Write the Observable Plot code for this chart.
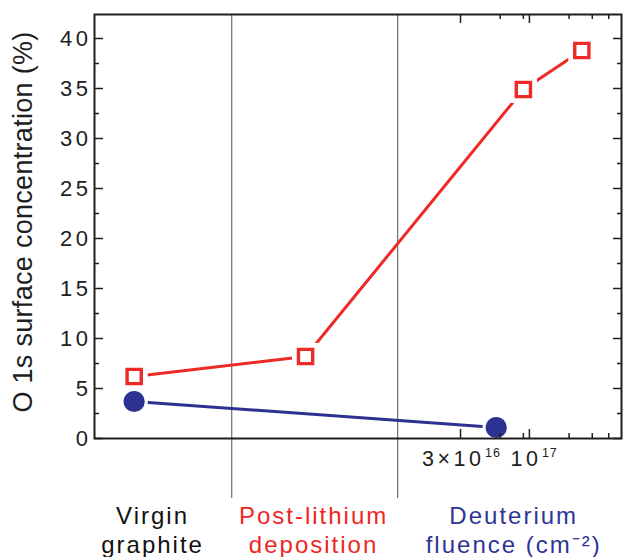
<!DOCTYPE html>
<html>
<head>
<meta charset="utf-8">
<script src="https://cdn.jsdelivr.net/npm/d3@7"></script>
<script src="https://cdn.jsdelivr.net/npm/@observablehq/plot@0.6"></script>
<style>
  body { margin: 0; background: #fff; }
</style>
</head>
<body>
<div id="chart"></div>
<script>
// Treatment stages shown along the horizontal axis
const stageNames = ["Virgin\ngraphite", "Post-lithium\ndeposition", "Deuterium\nfluence (cm\u207B\u00B2)"];
const stageColors = ["#111111", "#ee2624", "#2e3593"];
const stageLabelX = [1.38e14, 2.3e15, 7.6e16];
const stageBoundaries = [5.5e14, 1e16];

// O 1s surface concentration (%): open squares and filled circles
const squareX = [1e14, 2e15, 9e16, 2.5e17];
const squareY = [6.2, 8.2, 34.9, 38.8];
const circleX = [1e14, 5.6e16];
const circleY = [3.7, 1.1];

// Axis ticks
const yTicks = [0, 5, 10, 15, 20, 25, 30, 35, 40];
const yMinorTicks = [2.5, 7.5, 12.5, 17.5, 22.5, 27.5, 32.5, 37.5];
const xTicks = [3e16, 1e17];
const xTickBase = ["3\u00D710", "10"];
const xTickExp = ["16", "17"];
const xMinorTicks = [6e16, 9e16, 2e17, 3e17, 4e17];

const RED = "#ee2a26";
const BLUE = "#2c3192";
const INK = "#1e1e1e";

const squares = squareX.map((x, i) => ({x, y: squareY[i]}));
const circles = circleX.map((x, i) => ({x, y: circleY[i]}));
const stages = stageNames.map((name, i) => ({name, x: stageLabelX[i], color: stageColors[i]}));

const innerW = 624 - 94 - 3;
const innerH = 557 - 14 - 119;

// labels under the two major fluence ticks: base text plus a raised exponent
const baseDx = [24, 12];
const fluenceLabels = xTicks.flatMap((t, i) => [
  Plot.text([t], {x: d => d, text: [xTickBase[i]], frameAnchor: "bottom", lineAnchor: "bottom",
    textAnchor: "end", dx: baseDx[i], dy: 27, fontSize: 21.5, fill: INK, ariaDescription: "tick labels"}),
  Plot.text([t], {x: d => d, text: [xTickExp[i]], frameAnchor: "bottom", lineAnchor: "bottom",
    textAnchor: "start", dx: baseDx[i] + 0.5, dy: 18, fontSize: 12.5, fill: INK, ariaDescription: "exponents"})
]);

const chart = Plot.plot({
  width: 624,
  height: 557,
  marginTop: 14,
  marginLeft: 94,
  marginRight: 3,
  marginBottom: 119,
  x: {type: "log", domain: [5e13, 5e17], axis: null},
  y: {domain: [0, 42.4], axis: null},
  color: {type: "identity"},
  style: {
    fontFamily: '"Liberation Sans", Arial, Helvetica, sans-serif',
    letterSpacing: "2px",
    background: "#fff",
    overflow: "visible"
  },
  marks: [
    // stage separators, running below the frame into the label area
    Plot.ruleX(stageBoundaries, {stroke: "#6e6e6e", strokeWidth: 1.2, insetBottom: -60}),

    // connecting lines
    Plot.line(squares, {x: "x", y: "y", stroke: RED, strokeWidth: 3}),
    Plot.line(circles, {x: "x", y: "y", stroke: BLUE, strokeWidth: 3}),

    // white halos leave a small gap between line ends and markers
    Plot.dot(squares, {x: "x", y: "y", symbol: "square", r: 8, fill: "#fff", stroke: "#fff", strokeWidth: 13}),
    Plot.dot(circles, {x: "x", y: "y", r: 13.7, fill: "#fff"}),

    // markers
    Plot.dot(squares, {x: "x", y: "y", symbol: "square", r: 8, fill: "#fff", stroke: RED, strokeWidth: 3.4}),
    Plot.dot(circles, {x: "x", y: "y", r: 10.6, fill: BLUE}),

    // inward ticks on all four sides
    Plot.ruleY(yTicks, {stroke: INK, strokeWidth: 1.5, insetRight: innerW - 9}),
    Plot.ruleY(yMinorTicks, {stroke: INK, strokeWidth: 1.5, insetRight: innerW - 5}),
    Plot.ruleY(yTicks, {stroke: INK, strokeWidth: 1.5, insetLeft: innerW - 8}),
    Plot.ruleY(yMinorTicks, {stroke: INK, strokeWidth: 1.5, insetLeft: innerW - 4}),
    Plot.ruleX(xTicks, {stroke: INK, strokeWidth: 1.5, insetTop: innerH - 9}),
    Plot.ruleX(xMinorTicks, {stroke: INK, strokeWidth: 1.5, insetTop: innerH - 5}),
    Plot.ruleX(xTicks, {stroke: INK, strokeWidth: 1.5, insetBottom: innerH - 9}),
    Plot.ruleX(xMinorTicks, {stroke: INK, strokeWidth: 1.5, insetBottom: innerH - 5}),

    Plot.frame({stroke: INK, strokeWidth: 2}),

    // y tick labels
    Plot.text(yTicks, {y: d => d, text: d => String(d), frameAnchor: "left", textAnchor: "end",
      lineAnchor: "middle", dx: -3, fontSize: 22, fill: INK, ariaDescription: "tick labels"}),

    // y axis title
    Plot.text(["O 1s surface concentration (%)"], {frameAnchor: "left", rotate: -90, lineAnchor: "top",
      textAnchor: "middle", dx: -81.5, dy: -4.5, fontSize: 27, fill: INK, ariaDescription: "axis title"}),

    ...fluenceLabels,

    // stage names under the plot
    Plot.text(stages, {x: "x", text: "name", fill: "color", frameAnchor: "bottom", lineAnchor: "top",
      textAnchor: "middle", dy: 66, fontSize: 24, lineHeight: 1.17})
  ]
});

const svg = d3.select(chart);
svg.selectAll('g[aria-description="tick labels"] text').style("letter-spacing", "3.5px");
svg.selectAll('g[aria-description="exponents"] text').style("letter-spacing", "1px");
svg.selectAll('g[aria-description="axis title"] text').style("letter-spacing", "0.3px");

document.getElementById("chart").appendChild(chart);
</script>
</body>
</html>
